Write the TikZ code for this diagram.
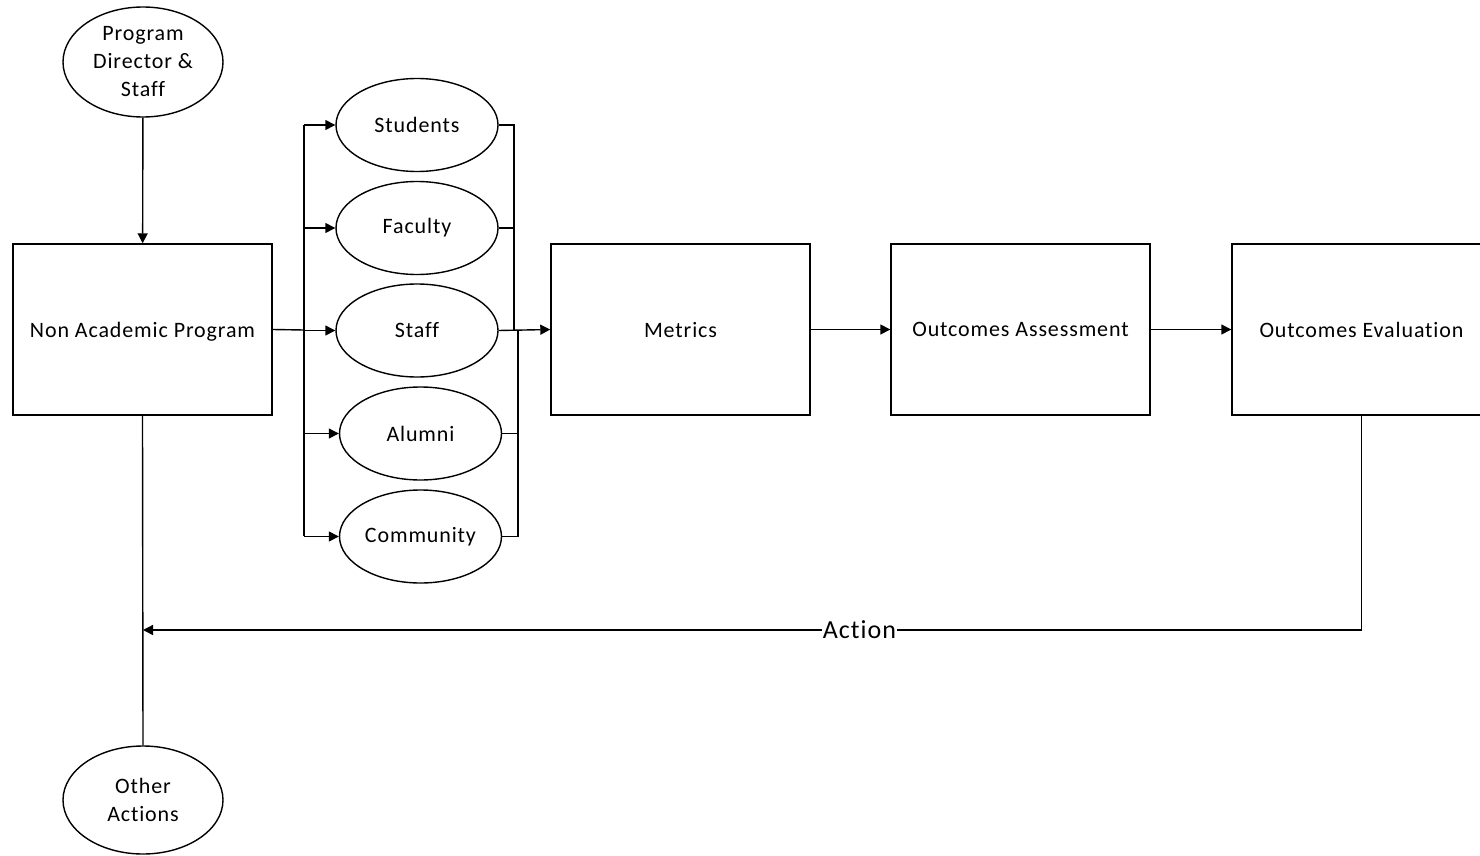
\documentclass[tikz,border=0pt]{standalone}
\usepackage{fontspec}
\setmainfont[LetterSpace=4,Ligatures=NoCommon]{Carlito}
\usetikzlibrary{arrows.meta,shapes.geometric}
\begin{document}
\begin{tikzpicture}[x=1pt,y=-1pt, line width=1.4pt,
 box/.style={draw, rectangle, minimum width=259pt, minimum height=171pt, inner sep=0pt, text depth=0pt},
 oval/.style={draw, ellipse, minimum width=162pt, minimum height=93pt, inner sep=0pt, align=center},
 arr/.style={-{Triangle[length=10pt,width=10pt]}},
 font=\fontsize{22}{28}\selectfont]
\useasboundingbox (0,0) rectangle (1480,856);
\node[oval, minimum width=160pt, minimum height=110pt] (pd) at (143,62) {Program\\Director \&\\Staff};
\node[box] (nap) at (142.5,329.5) {Non Academic Program};
\node[oval] (stu) at (417,125) {Students};
\node[oval] (fac) at (417,228) {Faculty};
\node[oval] (sta) at (417,330.5) {Staff};
\node[oval] (alu) at (420.5,433.5) {Alumni};
\node[oval] (com) at (420.5,536.5) {Community};
\node[box] (met) at (680.5,329.5) {Metrics};
\node[box] (oa) at (1020.5,329.5) {Outcomes Assessment};
\node[box] (oe) at (1361.5,329.5) {Outcomes Evaluation};
\node[oval, minimum width=160pt, minimum height=108pt] (oth) at (143,800) {Other\\Actions};
\coordinate (bl) at (304,330);
\coordinate (blt) at (304,125);
\coordinate (blb) at (304,536);
\coordinate (br) at (514,330);
\coordinate (br2) at (518,330);
\coordinate (fb) at (143,630);
\draw[arr] (pd) -- (nap);
\draw (nap.east) -- (bl);
\draw (blt) -- (blb);
\foreach \n in {stu,fac,sta,alu,com} \draw[arr] (bl |- \n) -- (\n.west);
\draw (stu.east) -| (br);
\draw (fac.east) -| (br);
\draw (alu.east) -| (br2);
\draw (com.east) -| (br2);
\draw[arr] (sta.east) -- (met.west);
\draw[arr] (met) -- (oa);
\draw[arr] (oa) -- (oe);
\draw[arr] (oe.south) |- node[pos=0.706, fill=white, inner sep=1pt, font=\fontsize{26}{30}\selectfont] (act) {Action} (fb);
\draw (nap.south) -- (oth.north);
\end{tikzpicture}
\end{document}
